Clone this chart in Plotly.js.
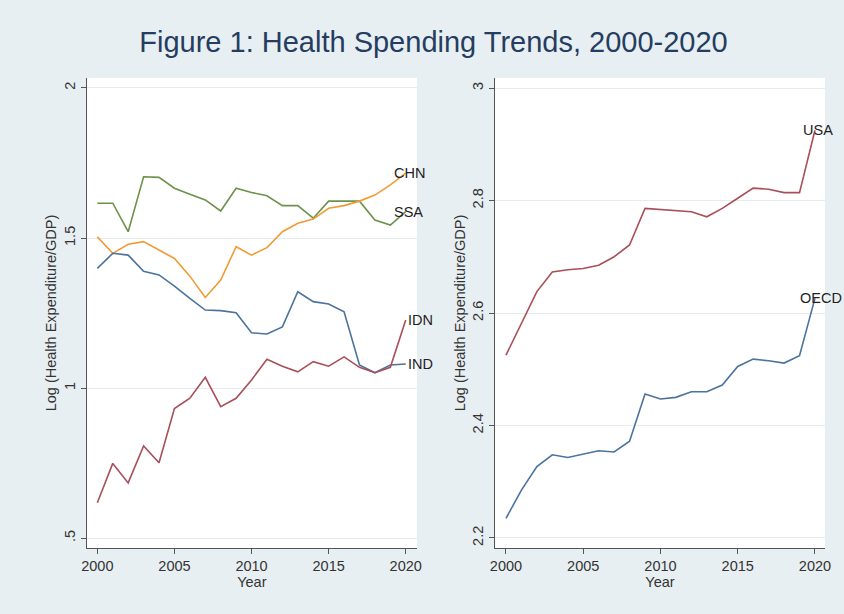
<!DOCTYPE html>
<html>
<head>
<meta charset="utf-8">
<script src="https://cdn.plot.ly/plotly-3.0.1.min.js"></script>
<style>html,body{margin:0;padding:0;background:#e8eff2;}</style>
</head>
<body>
<div id="chart" style="width:844px;height:614px;"></div>
<script>
// ---- Data ----
const years = [2000,2001,2002,2003,2004,2005,2006,2007,2008,2009,2010,2011,2012,2013,2014,2015,2016,2017,2018,2019,2020];

// Left panel: Log (Health Expenditure/GDP)
const SSA = [1.616,1.616,1.521,1.704,1.702,1.666,1.646,1.627,1.590,1.666,1.652,1.641,1.608,1.608,1.566,1.623,1.623,1.623,1.560,1.543,1.588];
const CHN = [1.504,1.449,1.479,1.488,1.460,1.432,1.373,1.302,1.360,1.471,1.443,1.468,1.521,1.549,1.563,1.599,1.608,1.623,1.643,1.677,1.716];
const IND = [1.399,1.449,1.443,1.389,1.377,1.340,1.299,1.260,1.258,1.251,1.184,1.180,1.204,1.321,1.288,1.280,1.254,1.077,1.051,1.077,1.080];
const IDN = [0.618,0.749,0.684,0.807,0.751,0.932,0.966,1.036,0.938,0.966,1.027,1.096,1.073,1.054,1.088,1.073,1.104,1.069,1.051,1.069,1.227];

// Right panel
const USA  = [2.525,2.582,2.638,2.673,2.677,2.679,2.685,2.700,2.721,2.786,2.784,2.782,2.780,2.771,2.786,2.804,2.822,2.820,2.814,2.814,2.925];
const OECD = [2.235,2.285,2.327,2.348,2.343,2.349,2.355,2.353,2.372,2.456,2.447,2.450,2.460,2.460,2.472,2.505,2.518,2.515,2.511,2.524,2.626];

const leftTickVals  = [0.5, 1, 1.5, 2];
const leftTickText  = [".5", "1", "1.5", "2"];
const rightTickVals = [2.2, 2.4, 2.6, 2.8, 3];
const rightTickText = ["2.2", "2.4", "2.6", "2.8", "3"];
const xTickVals = [2000, 2005, 2010, 2015, 2020];

const titleText = "Figure 1: Health Spending Trends, 2000-2020";
const yTitle = "Log (Health Expenditure/GDP)";
const xTitle = "Year";

// ---- Styles ----
const FONT = "Liberation Sans, Arial, Helvetica, sans-serif";
const C_BLUE = "#4b739c", C_RED = "#a94f58", C_GREEN = "#6e914c", C_ORANGE = "#f19b35";
const BG = "#e8eff2", GRID = "#e4ecef", AXIS = "#555555", TXT = "#333333";

function line(y, color, xa, ya) {
  return {x: years, y: y, type: "scatter", mode: "lines", xaxis: xa, yaxis: ya,
          line: {color: color, width: 1.6}, hoverinfo: "skip", showlegend: false};
}

const traces = [
  line(SSA, C_GREEN, "x", "y"),
  line(CHN, C_ORANGE, "x", "y"),
  line(IND, C_BLUE, "x", "y"),
  line(IDN, C_RED, "x", "y"),
  line(USA, C_RED, "x2", "y2"),
  line(OECD, C_BLUE, "x2", "y2")
];

function lbl(text, xa, ya, arr, xshift) {
  return {text: text, x: years[years.length-1], y: arr[arr.length-1], xref: xa, yref: ya,
          xanchor: "left", yanchor: "middle", xshift: xshift, showarrow: false,
          font: {family: FONT, size: 14.5, color: "#222"}};
}

const xBase = {
  tickmode: "array", tickvals: xTickVals, ticks: "outside", ticklen: 5, tickcolor: AXIS,
  showline: true, linecolor: AXIS, linewidth: 1, showgrid: false, zeroline: false,
  tickfont: {family: FONT, size: 14.5, color: TXT},
  title: {text: xTitle, font: {family: FONT, size: 14.5, color: TXT}, standoff: 0}
};
const yBase = {
  tickmode: "array", ticks: "outside", ticklen: 5, tickcolor: AXIS, tickangle: -90,
  showline: true, linecolor: AXIS, linewidth: 1, showgrid: true, gridcolor: GRID, gridwidth: 1,
  zeroline: false, tickfont: {family: FONT, size: 14.5, color: TXT},
  title: {text: yTitle, font: {family: FONT, size: 14.5, color: TXT}, standoff: 1}
};

const layout = {
  width: 844, height: 614,
  paper_bgcolor: BG, plot_bgcolor: "#ffffff",
  margin: {l: 0, r: 0, t: 0, b: 0},
  title: {text: titleText, x: 433.5/844, xref: "container", xanchor: "center",
          y: 1 - 42/614, yref: "container", yanchor: "middle",
          font: {family: FONT, size: 29, color: "#253d60"}},
  xaxis:  Object.assign({}, xBase, {domain: [86.7/844, 417/844], range: [1999.31, 2020.73], anchor: "y"}),
  xaxis2: Object.assign({}, xBase, {domain: [495/844, 825/844], range: [1999.29, 2020.65], anchor: "y2"}),
  yaxis:  Object.assign({}, yBase, {domain: [66/614, 536/614], range: [0.467, 2.0333], tickvals: leftTickVals, ticktext: leftTickText, anchor: "x"}),
  yaxis2: Object.assign({}, yBase, {domain: [66/614, 536/614], range: [2.1822, 3.0178], tickvals: rightTickVals, ticktext: rightTickText, anchor: "x2"}),
  annotations: [
    lbl("CHN", "x", "y", CHN, -14),
    lbl("SSA", "x", "y", SSA, -14),
    lbl("IDN", "x", "y", IDN, 0),
    lbl("IND", "x", "y", IND, 0),
    lbl("USA", "x2", "y2", USA, -14),
    lbl("OECD", "x2", "y2", OECD, -17)
  ],
  showlegend: false
};

Plotly.newPlot("chart", traces, layout, {staticPlot: true, displayModeBar: false});
</script>
</body>
</html>
